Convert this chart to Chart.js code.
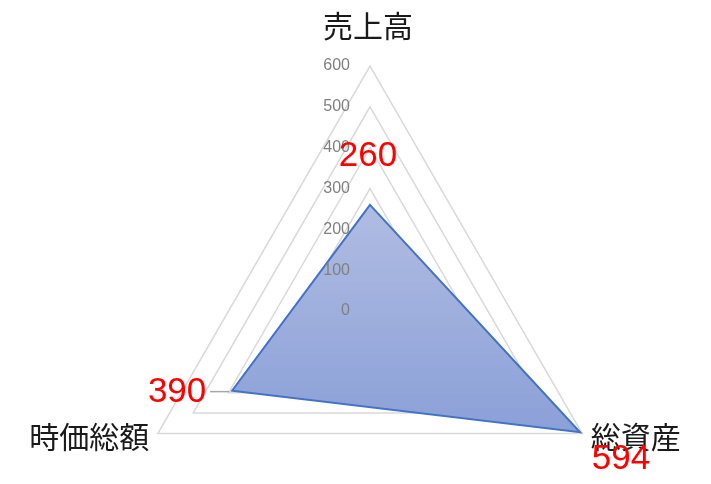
<!DOCTYPE html>
<html lang="ja">
<head>
<meta charset="utf-8">
<title>レーダーチャート</title>
<script src="https://cdn.jsdelivr.net/npm/chart.js@4.4.1/dist/chart.umd.min.js"></script>
<style>
  html, body { margin: 0; padding: 0; background: #fff; }
  #wrap { width: 711px; height: 484px; }
</style>
</head>
<body>
<div id="wrap"><canvas id="radar" width="711" height="484"></canvas></div>
<script>
// データ
const categories = ['売上高', '総資産', '時価総額'];
const values = [260, 594, 390];
const tickValues = [0, 100, 200, 300, 400, 500, 600];

// レイアウト（データとは別）
const CENTER_X = 370;
const CENTER_Y = 311;
const RADIUS = 245;
const JP_FONT = '"Noto Sans CJK JP", "Noto Sans", sans-serif';
const NUM_FONT = '"Liberation Sans", Arial, sans-serif';

// データラベルの位置ずれ（点からの dx, dy）と引き出し線
const labelOffsets = [[-2, -48], [41, 27], [-55, 2]];
const leaderLines = [false, false, true];

// 塗りのグラデーション
function areaGradient(context) {
    const chart = context.chart;
    const scale = chart.scales.r;
    if (!scale || !chart.chartArea) return '#9aace0';
    let top = Infinity, bottom = -Infinity;
    values.forEach((v, i) => {
        const p = scale.getPointPositionForValue(i, v);
        top = Math.min(top, p.y);
        bottom = Math.max(bottom, p.y);
    });
    if (!isFinite(top) || !isFinite(bottom) || top === bottom) return '#9aace0';
    const g = chart.ctx.createLinearGradient(0, top, 0, bottom);
    g.addColorStop(0, '#b0bce2');
    g.addColorStop(1, '#8ba0d8');
    return g;
}

// 軸ラベル・目盛・データラベルを描くプラグイン
const textPlugin = {
    id: 'radarText',
    afterDatasetsDraw(chart) {
        const ctx = chart.ctx;
        const scale = chart.scales.r;
        ctx.save();

        // 目盛ラベル
        ctx.font = '16px ' + NUM_FONT;
        ctx.fillStyle = '#808080';
        ctx.textAlign = 'right';
        ctx.textBaseline = 'middle';
        scale.ticks.forEach(t => {
            const d = scale.getDistanceFromCenterForValue(t.value);
            ctx.fillText(String(t.value), scale.xCenter - 20, scale.yCenter - d);
        });

        // 項目名
        ctx.font = '30px ' + JP_FONT;
        ctx.fillStyle = '#1a1a1a';
        categories.forEach((c, i) => {
            if (i === 0) {
                const p = scale.getPointPosition(i, scale.drawingArea + 40);
                ctx.textAlign = 'center';
                ctx.textBaseline = 'middle';
                ctx.fillText(c, p.x - 2, p.y);
            } else {
                const p = scale.getPointPosition(i, scale.drawingArea + 10);
                ctx.textAlign = p.x < scale.xCenter ? 'right' : 'left';
                ctx.textBaseline = 'middle';
                ctx.fillText(c, p.x, p.y - 2);
            }
        });

        // データラベル
        ctx.font = '35px ' + NUM_FONT;
        values.forEach((v, i) => {
            const p = scale.getPointPositionForValue(i, v);
            const [dx, dy] = labelOffsets[i];
            const lx = p.x + dx, ly = p.y + dy;
            if (leaderLines[i]) {
                ctx.strokeStyle = '#a6a6a6';
                ctx.lineWidth = 1.5;
                ctx.beginPath();
                ctx.moveTo(lx + 33, p.y + 1);
                ctx.lineTo(p.x - 3, p.y + 1);
                ctx.stroke();
            }
            ctx.fillStyle = '#ff0000';
            ctx.textAlign = 'center';
            ctx.textBaseline = 'middle';
            ctx.fillText(String(v), lx, ly);
        });

        ctx.restore();
    }
};

new Chart(document.getElementById('radar'), {
    type: 'radar',
    data: {
        labels: categories,
        datasets: [{
            data: values,
            fill: true,
            backgroundColor: areaGradient,
            borderColor: '#4472c4',
            borderWidth: 2,
            pointRadius: 0,
            pointHoverRadius: 0,
            tension: 0
        }]
    },
    options: {
        responsive: false,
        animation: false,
        events: [],
        plugins: {
            legend: { display: false },
            tooltip: { enabled: false }
        },
        scales: {
            r: {
                min: tickValues[0],
                max: tickValues[tickValues.length - 1],
                ticks: { stepSize: 100, display: false },
                grid: { color: '#d9d9d9', lineWidth: 1.5, circular: false },
                angleLines: { display: false },
                pointLabels: { display: false },
                afterFit(scale) {
                    scale.xCenter = CENTER_X;
                    scale.yCenter = CENTER_Y;
                    scale.drawingArea = RADIUS;
                }
            }
        }
    },
    plugins: [textPlugin]
});
</script>
</body>
</html>
